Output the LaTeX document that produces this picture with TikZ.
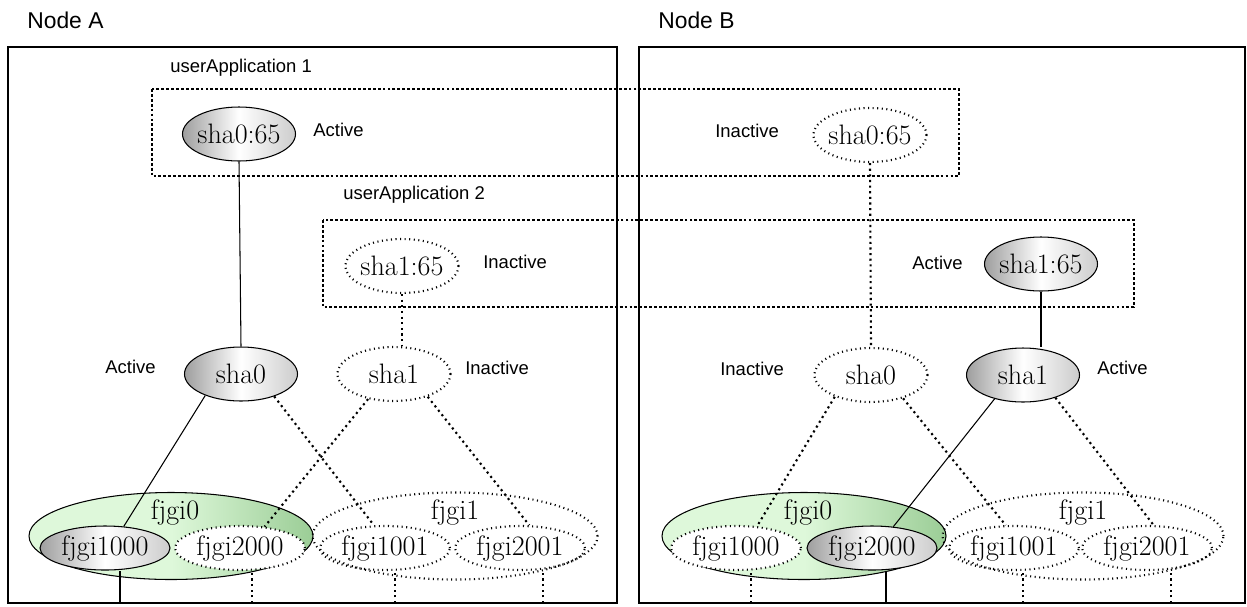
\documentclass[tikz,border=0pt]{standalone}
\usepackage{fontspec}
\newfontfamily\labelfont{Liberation Sans}
\usetikzlibrary{shapes.geometric, calc}
\definecolor{fjlight}{RGB}{222,248,218}
\definecolor{fjdark}{RGB}{155,205,150}
\newlength{\pxu}\setlength{\pxu}{0.02cm}
\newcommand{\resfont}{\fontsize{16}{18}\selectfont}
\tikzset{
  res/.style={ellipse, draw, inner sep=-4pt, line width=0.6pt,
    minimum width=113\pxu, minimum height=54\pxu, font=\resfont},
  onres/.style={res, left color=black!38, right color=black!20, middle color=white},
  offres/.style={res, fill=white, dotted, line width=1.2pt},
  gdisk/.style={minimum width=130\pxu, minimum height=44\pxu},
  grp/.style={res, minimum width=284\pxu, minimum height=87\pxu},
  tag/.style={anchor=west, inner sep=0pt, font=\labelfont\fontsize{10.5}{12}\selectfont},
  title/.style={anchor=west, inner sep=0pt, font=\labelfont\fontsize{13}{15}\selectfont},
  nodebox/.style={draw, line width=0.9pt},
  appbox/.style={draw, line width=0.8pt, dash pattern=on 1.6pt off 1.2pt},
  act/.style={line width=0.6pt},
  inact/.style={dotted, line width=1.2pt}
}
\begin{document}
\begin{tikzpicture}[x=0.02cm, y=-0.02cm]
  \useasboundingbox (0,0) rectangle (1247,606);
  % cluster nodes
  \node[title] (ttlA) at (27,20) {Node A};
  \node[title] (ttlB) at (658,20) {Node B};
  \draw[nodebox] (8,47) rectangle (617,603);
  \draw[nodebox] (639,47) rectangle (1245,603);
  \coordinate (botA) at (8,603);
  \coordinate (botB) at (639,603);

  % userApplication 1
  \node[tag] (ua1) at (170,68) {userApplication 1};
  \draw[appbox] (152,89) rectangle (959,176);
  \node[onres] (s065A) at (239,134) {sha0:65};
  \node[tag] at (313,130) {Active};
  \node[tag] at (715,131) {Inactive};
  \node[offres] (s065B) at (870,135) {sha0:65};

  % userApplication 2
  \node[tag] (ua2) at (343,195) {userApplication 2};
  \draw[appbox] (323,220) rectangle (1134,307);
  \node[offres] (s165A) at (402,266) {sha1:65};
  \node[tag] at (483,262) {Inactive};
  \node[tag] at (912,263) {Active};
  \node[onres] (s165B) at (1041,264) {sha1:65};

  % GDS devices
  \node[onres] (sha0A) at (241,374) {sha0};
  \node[offres] (sha1A) at (394,374) {sha1};
  \node[tag] at (105,367) {Active};
  \node[tag] at (465,368) {Inactive};
  \node[offres] (sha0B) at (871,375) {sha0};
  \node[onres] (sha1B) at (1023,375) {sha1};
  \node[tag] at (720,369) {Inactive};
  \node[tag] at (1097,368) {Active};

  % groups and disks, node A
  \node[grp, left color=fjlight, right color=fjdark, middle color=fjlight] (g0A) at (171,536) {};
  \node[font=\resfont] (g0Al) at (175,512) {fjgi0};
  \node[grp, offres, minimum width=285\pxu, minimum height=87\pxu, fill=none] (g1A) at (455,536) {};
  \node[font=\resfont] (g1Al) at (455,512) {fjgi1};
  \node[onres, gdisk] (d1000A) at (105,548) {fjgi1000};
  \node[offres, gdisk] (d2000A) at (240,548) {fjgi2000};
  \node[offres, gdisk, fill=none] (d1001A) at (385,548) {fjgi1001};
  \node[offres, gdisk, fill=none] (d2001A) at (520,548) {fjgi2001};

  % groups and disks, node B
  \node[grp, left color=fjlight, right color=fjdark, middle color=fjlight] (g0B) at (804,536) {};
  \node[font=\resfont] (g0Bl) at (808,512) {fjgi0};
  \node[grp, offres, minimum width=281\pxu, minimum height=87\pxu, fill=none] (g1B) at (1083,536) {};
  \node[font=\resfont] (g1Bl) at (1083,512) {fjgi1};
  \node[offres, gdisk] (d1000B) at (736,548) {fjgi1000};
  \node[onres, gdisk] (d2000B) at (872,548) {fjgi2000};
  \node[offres, gdisk, fill=none] (d1001B) at (1014,548) {fjgi1001};
  \node[offres, gdisk, fill=none] (d2001B) at (1147,548) {fjgi2001};

  % links, node A
  \draw[act] (s065A.south) -- (sha0A.north);
  \draw[inact] (s165A.south) -- (s165A.south |- sha1A.north);
  \draw[act] (sha0A.211) -- (d1000A.49);
  \draw[inact] (sha0A.326) -- (d1001A.116);
  \draw[inact] (sha1A.224) -- (d2000A.41);
  \draw[inact] (sha1A.326) -- (d2001A.68);

  % links, node B
  \draw[inact] (s065B.south) -- (sha0B.north);
  \draw[act] (s165B.south) -- (s165B.south |- sha1B.north);
  \draw[inact] (sha0B.211) -- (d1000B.46);
  \draw[inact] (sha0B.324) -- (d1001B.110);
  \draw[act] (sha1B.220) -- (d2000B.45);
  \draw[inact] (sha1B.325) -- (d2001B.74);

  % disk lines to the bottom
  \draw[act] ($(botA)+(112,0)$) coordinate (pA1) -- (pA1 |- d1000A.south);
  \draw[inact] ($(botA)+(244,0)$) coordinate (pA2) -- (pA2 |- d2000A.south);
  \draw[inact] ($(botA)+(387,0)$) coordinate (pA3) -- (pA3 |- d1001A.south);
  \draw[inact] ($(botA)+(535,0)$) coordinate (pA4) -- (pA4 |- d2001A.south);
  \draw[inact] ($(botB)+(112,0)$) coordinate (pB1) -- (pB1 |- d1000B.south);
  \draw[act] ($(botB)+(247,0)$) coordinate (pB2) -- (pB2 |- d2000B.south);
  \draw[inact] ($(botB)+(384,0)$) coordinate (pB3) -- (pB3 |- d1001B.south);
  \draw[inact] ($(botB)+(532,0)$) coordinate (pB4) -- (pB4 |- d2001B.south);
\end{tikzpicture}
\end{document}
